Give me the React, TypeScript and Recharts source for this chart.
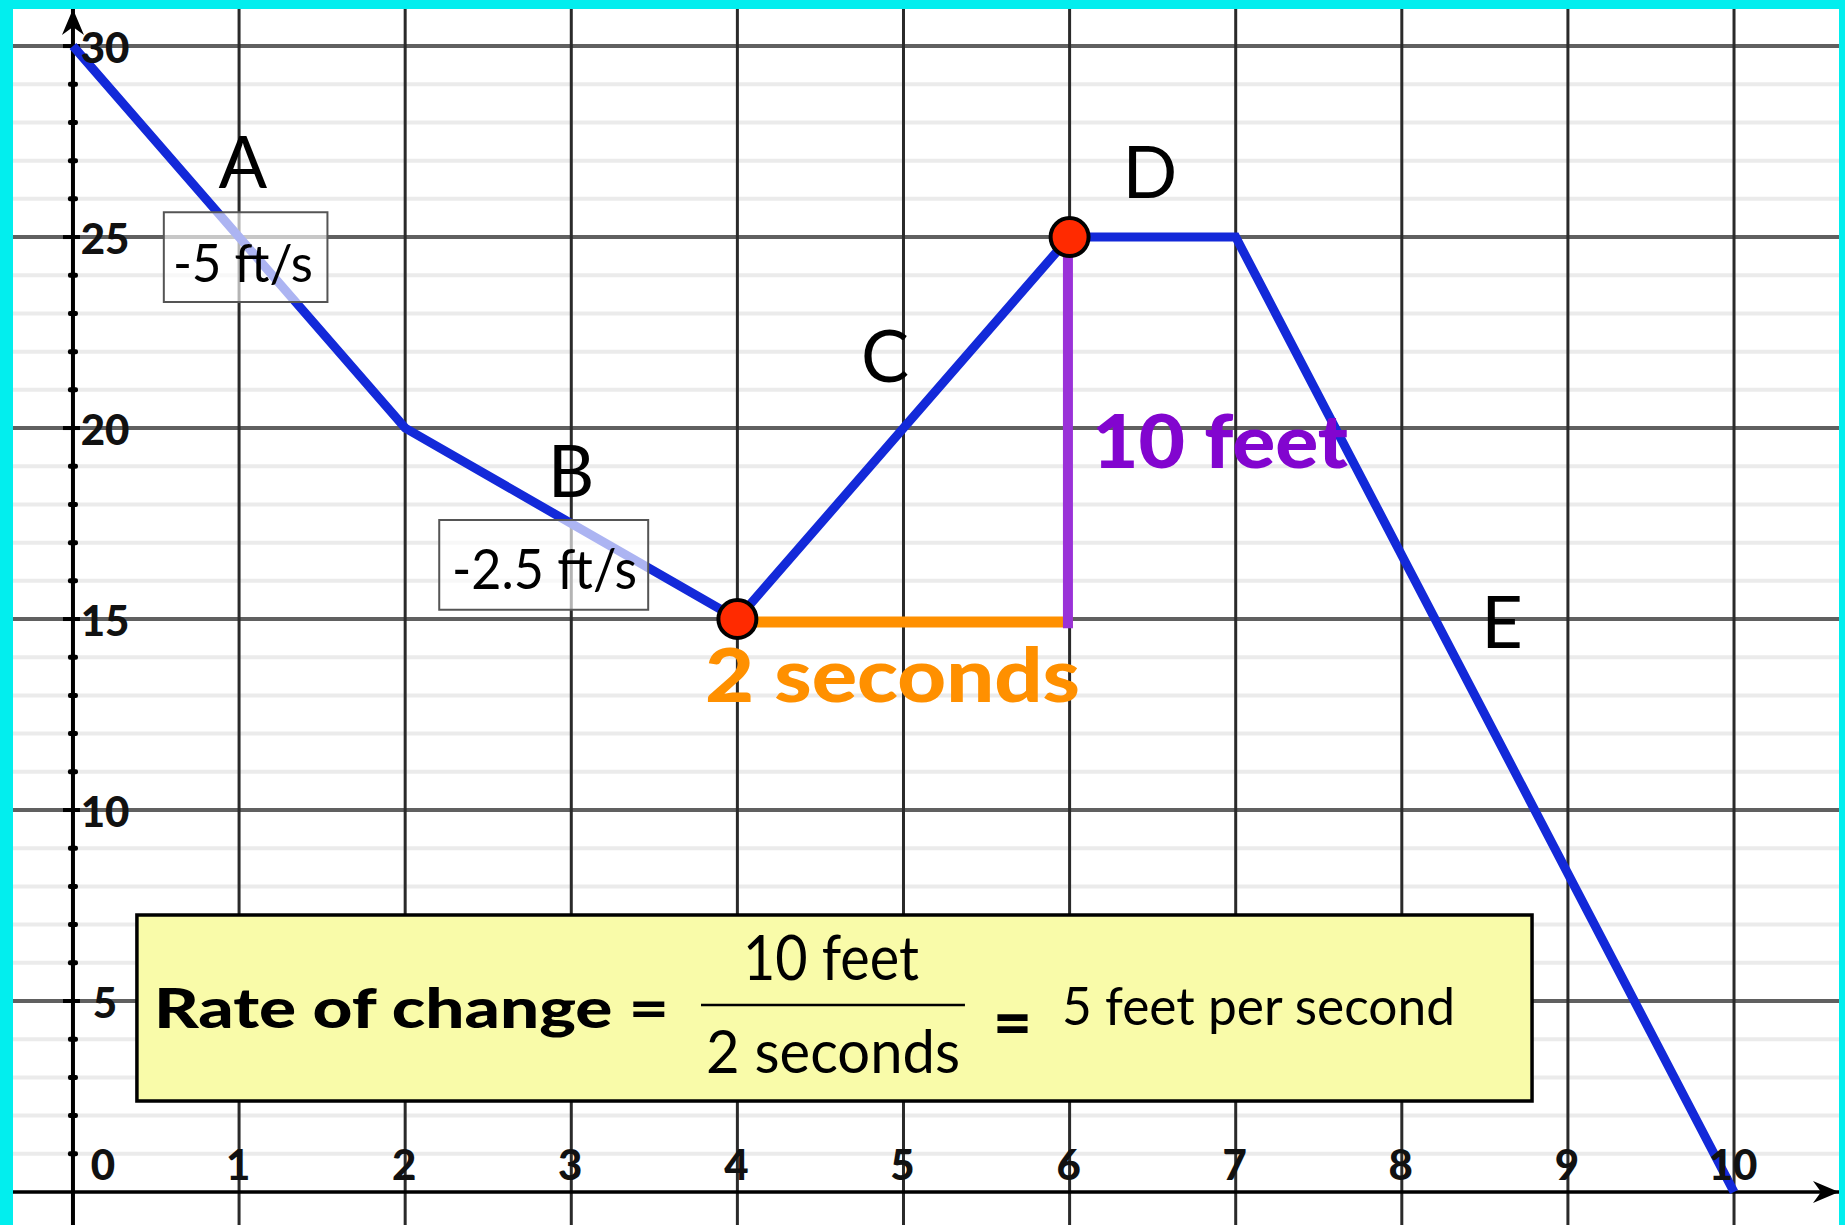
import React from 'react';
import { LineChart, Line, XAxis, YAxis, ReferenceLine, ReferenceDot, ReferenceArea } from 'recharts';

// ---- data ----
const timeSeconds = [0, 2, 4, 6, 7, 10];
const heightFeet = [30, 20, 15, 25, 25, 0];
const xTickValues = [0, 1, 2, 3, 4, 5, 6, 7, 8, 9, 10];
const yTickValues = [5, 10, 15, 20, 25, 30];
const minorYLines = [1, 2, 3, 4, 6, 7, 8, 9, 11, 12, 13, 14, 16, 17, 18, 19, 21, 22, 23, 24, 26, 27, 28, 29];
const majorYLines = [5, 10, 15, 20, 25, 30];
const verticalXLines = [1, 2, 3, 4, 5, 6, 7, 8, 9, 10];
const yAxisMarks = [1, 2, 3, 4, 5, 6, 7, 8, 9, 10, 11, 12, 13, 14, 15, 16, 17, 18, 19, 20, 21, 22, 23, 24, 25, 26, 27, 28, 29, 30];
const markedPointIndices = [2, 3];
const segmentNames = ['A', 'B', 'C', 'D', 'E'];
const segmentRates = ['-5 ft/s', '-2.5 ft/s'];
const riseLabel = '10 feet';
const runLabel = '2 seconds';
const rateTitle = 'Rate of change =';
const rateResult = '5 feet per second';

const chartData = timeSeconds.map((t, i) => ({ t, h: heightFeet[i] }));

// ---- layout ----
const W = 1826;
const H = 1216;
const X_MIN = -0.361;
const X_MAX = 10.632;
const Y_MIN = -0.864;
const Y_MAX = 30.97;
const FONT = 'Lato, "Open Sans", sans-serif';

const BLUE = '#1329D9';
const ORANGE = '#FF9000';
const PURPLE_LINE = '#9A32D8';
const PURPLE_TEXT = '#8205CF';

type TOpts = { size: number; weight?: number | string; color?: string; width?: number };

function textAt(key: string, x: number, y: number, text: string, o: TOpts, z = 70) {
  return (
    <ReferenceDot
      key={key}
      x={x}
      y={y}
      r={0}
      ifOverflow="visible"
      zIndex={z}
      shape={(p: any) => (
        <text
          x={p.cx}
          y={p.cy + 0.358 * o.size}
          textAnchor="middle"
          fontFamily={FONT}
          fontSize={o.size}
          fontWeight={o.weight ?? 400}
          fill={o.color ?? '#000'}
          {...(o.width ? { textLength: o.width, lengthAdjust: 'spacingAndGlyphs' } : {})}
        >
          {text}
        </text>
      )}
    />
  );
}

const XTick = (props: any) => {
  const v = props.payload.value;
  const x = v === 0 ? props.x + 30 : props.x - 1;
  return (
    <text x={x} y={1171} textAnchor="middle" fontFamily={FONT} fontSize={42} fontWeight={900} fill="#111">
      {v}
    </text>
  );
};

const YTick = (props: any) => {
  const v = props.payload.value;
  return (
    <text x={92} y={props.y + 17} textAnchor="middle" fontFamily={FONT} fontSize={42} fontWeight={900} fill="#111">
      {v}
    </text>
  );
};

export default function App() {
  return (
    <div
      style={{
        width: 1845,
        height: 1225,
        background: '#02EEEE',
        paddingLeft: 13,
        paddingTop: 9,
        boxSizing: 'border-box',
        overflow: 'hidden',
      }}
    >
      <style>{'body{margin:0}'}</style>
      <div style={{ width: W, height: H, background: '#fff' }}>
        <LineChart width={W} height={H} data={chartData} margin={{ top: 0, right: 0, bottom: 0, left: 0 }}>
          <XAxis
            dataKey="t"
            type="number"
            domain={[X_MIN, X_MAX]}
            allowDataOverflow
            ticks={xTickValues}
            interval={0}
            axisLine={false}
            tickLine={false}
            mirror
            tick={XTick}
          />
          <YAxis
            type="number"
            domain={[Y_MIN, Y_MAX]}
            allowDataOverflow
            ticks={yTickValues}
            interval={0}
            axisLine={false}
            tickLine={false}
            mirror
            tick={YTick}
          />

          {/* grid */}
          {minorYLines.map((v) => (
            <ReferenceLine key={'mn' + v} y={v} stroke="#EBEBEB" strokeWidth={4} zIndex={10} />
          ))}
          {majorYLines.map((v) => (
            <ReferenceLine key={'mj' + v} y={v} stroke="#606060" strokeWidth={4} zIndex={11} />
          ))}
          {verticalXLines.map((v) => (
            <ReferenceLine key={'vx' + v} x={v} stroke="#2A2A2A" strokeWidth={3} zIndex={12} />
          ))}

          {/* axes */}
          <ReferenceLine x={0} stroke="#000" strokeWidth={4} zIndex={20} />
          <ReferenceLine y={0} stroke="#000" strokeWidth={3.5} zIndex={20} />
          {yAxisMarks.map((v) => (
            <ReferenceDot
              key={'tk' + v}
              x={0}
              y={v}
              r={0}
              ifOverflow="visible"
              zIndex={21}
              shape={(p: any) =>
                v % 5 === 0 ? (
                  <rect x={p.cx - 10} y={p.cy - 2} width={17} height={4} fill="#000" />
                ) : (
                  <rect x={p.cx - 5} y={p.cy - 2.5} width={10} height={5} rx={2} fill="#000" />
                )
              }
            />
          ))}
          <ReferenceDot
            x={0}
            y={Y_MAX}
            r={0}
            ifOverflow="visible"
            zIndex={22}
            shape={(p: any) => (
              <path
                d={`M${p.cx},${p.cy} L${p.cx - 11},${p.cy + 26} L${p.cx},${p.cy + 18} L${p.cx + 11},${p.cy + 26} Z`}
                fill="#000"
              />
            )}
          />
          <ReferenceDot
            x={X_MAX}
            y={0}
            r={0}
            ifOverflow="visible"
            zIndex={22}
            shape={(p: any) => (
              <path
                d={`M${p.cx},${p.cy} L${p.cx - 26},${p.cy - 11} L${p.cx - 18},${p.cy} L${p.cx - 26},${p.cy + 11} Z`}
                fill="#000"
              />
            )}
          />

          {/* formula box */}
          <ReferenceArea
            x1={0.385}
            x2={8.784}
            y1={2.38}
            y2={7.25}
            fill="#F9FBA9"
            fillOpacity={1}
            stroke="#000"
            strokeWidth={3.5}
            ifOverflow="visible"
            zIndex={30}
          />
          <ReferenceLine
            segment={[
              { x: 3.781, y: 4.895 },
              { x: 5.37, y: 4.895 },
            ]}
            stroke="#000"
            strokeWidth={2.5}
            zIndex={35}
          />

          {/* main series */}
          <Line
            type="linear"
            dataKey="h"
            stroke={BLUE}
            strokeWidth={9}
            dot={false}
            activeDot={false}
            isAnimationActive={false}
            zIndex={40}
          />

          {/* run and rise */}
          <ReferenceLine
            segment={[
              { x: 4, y: 14.92 },
              { x: 6.02, y: 14.92 },
            ]}
            stroke={ORANGE}
            strokeWidth={11}
            zIndex={45}
          />
          <ReferenceLine
            segment={[
              { x: 5.99, y: 25 },
              { x: 5.99, y: 14.76 },
            ]}
            stroke={PURPLE_LINE}
            strokeWidth={10}
            zIndex={46}
          />

          {/* rate boxes */}
          <ReferenceArea
            x1={0.547}
            x2={1.532}
            y1={23.3}
            y2={25.65}
            fill="#fff"
            fillOpacity={0.65}
            stroke="#555"
            strokeWidth={2}
            zIndex={50}
          />
          <ReferenceArea
            x1={2.205}
            x2={3.463}
            y1={15.24}
            y2={17.59}
            fill="#fff"
            fillOpacity={0.65}
            stroke="#555"
            strokeWidth={2}
            zIndex={50}
          />

          {/* highlighted points */}
          {markedPointIndices.map((i) => (
            <ReferenceDot
              key={'pt' + i}
              x={timeSeconds[i]}
              y={heightFeet[i]}
              r={19}
              fill="#FF2A00"
              stroke="#000"
              strokeWidth={4}
              zIndex={60}
            />
          ))}

          {/* texts */}
          {textAt('lA', 1.023, 26.96, segmentNames[0], { size: 72 })}
          {textAt('lB', 2.998, 18.87, segmentNames[1], { size: 72 })}
          {textAt('lC', 4.889, 21.88, segmentNames[2], { size: 72 })}
          {textAt('lD', 6.484, 26.7, segmentNames[3], { size: 72 })}
          {textAt('lE', 8.603, 14.92, segmentNames[4], { size: 72 })}
          {textAt('r1', 1.023, 24.3, segmentRates[0], { size: 52, width: 140 })}
          {textAt('r2', 2.839, 16.31, segmentRates[1], { size: 56, width: 185 })}
          {textAt('rise', 6.906, 19.65, riseLabel, { size: 74, weight: 900, color: PURPLE_TEXT, width: 256 })}
          {textAt('run', 4.934, 13.53, runLabel, { size: 75, weight: 900, color: ORANGE, width: 375 })}
          {textAt('ft', 2.038, 4.817, rateTitle, { size: 56, weight: 900, width: 515 })}
          {textAt('num', 4.563, 6.139, riseLabel, { size: 62, width: 176 })}
          {textAt('den', 4.576, 3.678, runLabel, { size: 60, width: 254 })}
          {textAt('eq', 5.656, 4.45, '=', { size: 66, weight: 900, width: 39 })}
          {textAt('res', 7.137, 4.869, rateResult, { size: 53, width: 393 })}
        </LineChart>
      </div>
    </div>
  );
}
